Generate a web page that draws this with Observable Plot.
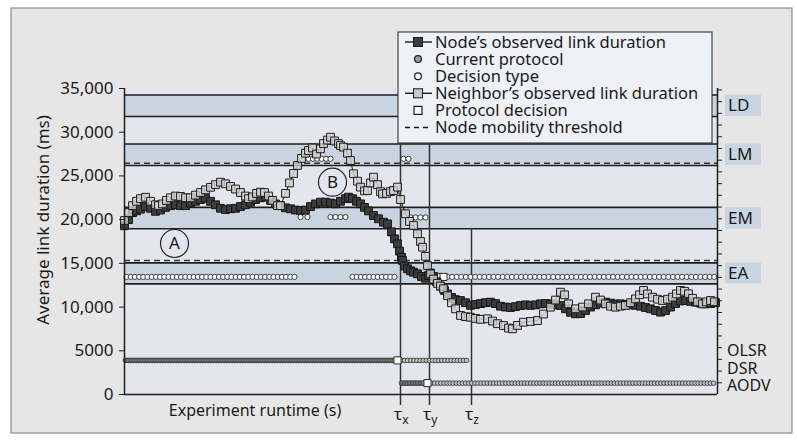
<!DOCTYPE html>
<html><head><meta charset="utf-8">
<script src="https://cdn.jsdelivr.net/npm/d3@7"></script>
<script src="https://cdn.jsdelivr.net/npm/@observablehq/plot@0.6"></script>
<style>
body{margin:0;background:#fff;}
#chart{width:797px;height:441px;}
svg{overflow:visible;}
</style></head><body><div id="chart"></div>
<script>
// ---------- data ----------
const xDomain = [0, 593];
const yTicks = [0, 5000, 10000, 15000, 20000, 25000, 30000, 35000];
const yTickLabels = ["0", "5000", "10,000", "15,000", "20,000", "25,000", "30,000", "35,000"];

const nodeTime = [0,4,8,12,16,21,26,31,36,41,46,51,56,61,66,71,76,81,86,91,96,101,106,111,116,121,126,131,136,141,146,151,156,161,166,171,176,181,186,191,196,201,206,211,216,221,224,228,232,236,240,244,249,254,259,263,267,270,273,275,277,278,280,283,286,289,293,297,301,304,306,309,312,316,320,323,327,331,336,341,346,351,356,361,366,371,376,381,386,391,396,401,406,411,416,421,426,431,436,441,446,451,456,461,466,471,476,481,486,491,496,501,506,511,516,521,526,531,536,541,546,551,556,561,566,571,576,581,586,591];
const nodeDuration = [19300,20000,20800,21000,21200,21500,21300,20950,21100,21400,21600,21700,21600,21600,21900,22100,22300,22450,22100,21700,21300,21160,21250,21300,21500,21700,22000,22300,22500,22600,22200,21800,21600,21350,21240,21100,21050,21100,21500,21800,22000,22000,21900,21810,22100,22400,22570,22400,22100,21810,21400,21000,20470,20100,19710,19520,18600,17800,17240,16400,15700,15330,14700,14380,14150,13990,13800,13500,13300,13600,13900,13500,12900,12400,11900,11500,11100,10850,10750,10500,10200,10300,10400,10500,10560,10400,10100,10000,9950,10050,10180,10250,10200,10250,10370,10400,10370,10250,10180,9800,9400,9230,9250,9600,10000,10250,10450,10560,10450,10350,10370,10300,10250,10200,10100,9950,9800,9610,9420,9600,10000,10400,10700,10750,10650,10560,10450,10370,10400,10500];

const neighborTime = [0,4,8,12,16,21,26,31,34,38,42,46,51,56,61,66,71,76,81,86,91,96,101,106,111,116,121,124,128,132,136,140,144,148,153,156,161,165,169,173,177,181,184,188,192,196,199,203,206,210,214,216,219,223,226,229,233,236,240,243,246,249,253,256,258,262,266,269,273,276,281,285,289,293,296,298,301,303,306,309,313,316,319,323,327,331,336,341,346,351,356,363,368,373,379,384,388,393,399,406,413,419,426,431,436,440,444,451,458,464,471,476,481,486,491,496,501,506,511,515,519,523,528,533,538,543,548,552,556,560,564,568,573,578,582,586,590];
const neighborDuration = [19900,20800,21600,22100,22400,22560,22100,21700,21600,21800,22200,22500,22700,22650,22500,22500,22800,23100,23410,23700,24000,24280,24100,23800,23500,23100,22700,22400,22600,23000,23140,23100,22700,22200,21600,21600,23000,24200,25280,26200,27000,27600,27900,28200,27500,28100,28700,29100,29430,29000,28700,28480,28290,27600,26760,25250,24400,23720,23300,23330,24200,24860,24000,23200,22950,23000,23200,23330,23720,22300,20670,19800,19330,18380,17500,16850,15800,14760,13800,13200,12700,12400,12090,11300,10500,9800,9040,8900,8840,8700,8600,8660,8400,8100,7890,7600,7510,7900,8270,8350,8460,9200,9990,10800,11700,11400,10370,9800,10000,10370,11130,10800,10370,10100,9990,10100,10180,10500,10940,11400,11900,11500,11130,10900,10750,10900,11130,11500,11900,11800,11520,11000,10600,10370,10600,10750,10600];

const bandNames = ["LD", "LM", "EM", "EA"];
const bandLow = [31800, 26200, 18950, 12650];
const bandHigh = [34250, 28650, 21400, 15050];
const thresholds = [26450, 15330];

const protocolNames = ["OLSR", "DSR", "AODV"];
const protocolLabelValues = [5030, 2970, 1030];

// current protocol: sampled runs [level, first t, last t, sample spacing]
const currentLevel = [3900, 3900, 1300, 1300];
const currentStart = [1, 277, 277, 307];
const currentEnd = [270, 344, 300, 590];
const currentStep = [1.6, 3.1, 1.6, 3.1];
const currentFill = ["#9c9c9c", "#c4c4c4", "#9c9c9c", "#c4c4c4"];

// decision type runs
const decisionLevel = [13450, 13450, 13450, 26960, 26960, 20300, 20300, 20250];
const decisionStart = [2, 228, 323, 184, 279, 176, 206, 286];
const decisionEnd = [171, 274, 592, 206, 284, 183, 221, 301];
const decisionStep = [4.2, 4.2, 4.6, 4.4, 5, 7, 5, 5];

// protocol decisions
const protoDecisionTime = [273, 303, 313, 319];
const protoDecisionLevel = [3900, 1300, 13450, 13450];

const tauNames = ["x", "y", "z"];
const tauTimes = [276, 305, 347];
const tauTop = [28700, 28700, 18950];

const annoLabels = ["A", "B"];
const annoTime = [50, 208];
const annoValue = [17270, 24280];

const rightTicks = d3.range(1340, 35000, 1340);

// ---------- build ----------
const FONT = "'Noto Sans', 'Open Sans', sans-serif";
const node = nodeTime.map((t, i) => ({t, v: nodeDuration[i]}));
const neighbor = neighborTime.map((t, i) => ({t, v: neighborDuration[i]}));
const bands = bandNames.map((name, i) => ({name, low: bandLow[i], high: bandHigh[i]}));
const bandEdges = bands.flatMap(b => [b.low, b.high]);
const current = currentLevel.flatMap((lv, i) =>
  d3.range(currentStart[i], currentEnd[i] + 0.01, currentStep[i]).map(t => ({t, v: lv, fill: currentFill[i]})));
const decisions = decisionLevel.flatMap((lv, i) =>
  d3.range(decisionStart[i], decisionEnd[i] + 0.01, decisionStep[i]).map(t => ({t, v: lv})));
const protoDecisions = protoDecisionTime.map((t, i) => ({t, v: protoDecisionLevel[i]}));
const taus = tauNames.map((n, i) => ({n, t: tauTimes[i], top: tauTop[i]}));
const annos = annoLabels.map((l, i) => ({l, t: annoTime[i], v: annoValue[i]}));

const plot = Plot.plot({
  width: 797, height: 441,
  marginLeft: 124, marginRight: 80, marginTop: 88, marginBottom: 47,
  x: {domain: xDomain, axis: null},
  y: {domain: [0, 35000], axis: null},
  style: {fontFamily: FONT, fontSize: "17px", background: "transparent", color: "#1a1a1a", overflow: "visible"},
  marks: [
    Plot.frame({fill: "#e3e7ed", stroke: null}),
    Plot.rect(bands, {x1: xDomain[0], x2: xDomain[1], y1: "low", y2: "high", fill: "#c8d4e0"}),
    Plot.ruleY(bandEdges, {stroke: "#1e1e1e", strokeWidth: 1.6}),
    Plot.ruleY(thresholds, {stroke: "#333", strokeWidth: 1.4, strokeDasharray: "6,4"}),
    Plot.ruleX(taus, {x: "t", y1: "top", y2: -1260, stroke: "#333", strokeWidth: 1.5}),
    Plot.dot(current, {x: "t", y: "v", r: 2.3, fill: "fill", stroke: "#2a2a2a", strokeWidth: 0.8}),
    Plot.dot(decisions, {x: "t", y: "v", r: 2.6, fill: "#fff", stroke: "#2a2a2a", strokeWidth: 0.9}),
    Plot.dot(protoDecisions, {x: "t", y: "v", symbol: "square", r: 4, fill: "#fff", stroke: "#2a2a2a", strokeWidth: 1}),
    Plot.line(node, {x: "t", y: "v", stroke: "#1a1a1a", strokeWidth: 1}),
    Plot.dot(node, {x: "t", y: "v", symbol: "square", r: 4.4, fill: "#3d3d3d", stroke: "#151515", strokeWidth: 1}),
    Plot.line(neighbor, {x: "t", y: "v", stroke: "#1a1a1a", strokeWidth: 1}),
    Plot.dot(neighbor, {x: "t", y: "v", symbol: "square", r: 4.4, fill: "#d2d2d2", stroke: "#1e1e1e", strokeWidth: 1, fillOpacity: 0.8}),
    Plot.dot(annos, {x: "t", y: "v", r: 14, fill: "none", stroke: "#222", strokeWidth: 1.2}),
    Plot.text(annos, {x: "t", y: "v", text: "l", fontSize: 17, fill: "#1a1a1a"}),
    Plot.ruleX(xDomain, {stroke: "#1e1e1e", strokeWidth: 1.5}),
    Plot.ruleY([0], {stroke: "#1e1e1e", strokeWidth: 1.5}),
    Plot.axisY({ticks: yTicks, tickFormat: d => yTickLabels[yTicks.indexOf(d)], tickSize: 5, tickPadding: 6, label: null, stroke: "#1e1e1e", fill: "#1a1a1a"}),
    Plot.axisY({anchor: "right", ticks: rightTicks, tickFormat: () => "", tickSize: 4, label: null, stroke: "#1e1e1e"})
  ]
});

const svg = d3.select(plot);
const ys = plot.scale("y"), xs = plot.scale("x");
// outer frame
svg.insert("rect", ":first-child")
  .attr("x", 11).attr("y", 8).attr("width", 781).attr("height", 425)
  .attr("fill", "#e6e6e6").attr("stroke", "#8c8c8c").attr("stroke-width", 1.2);

const ann = svg.append("g").attr("font-family", FONT).attr("fill", "#1a1a1a").attr("text-anchor", "start");
// y-axis title
ann.append("text").attr("transform", "translate(43,220) rotate(-90)")
  .attr("text-anchor", "middle").attr("dy", "0.35em").attr("font-size", 17)
  .text("Average link duration (ms)");
// x-axis title
ann.append("text").attr("x", 255).attr("y", 416).attr("text-anchor", "middle").attr("font-size", 16)
  .text("Experiment runtime (s)");
// tau labels
taus.forEach(d => {
  const t = ann.append("text").attr("x", xs.apply(d.t) - 6).attr("y", 420).attr("font-size", 17);
  t.append("tspan").text("τ");
  t.append("tspan").attr("dy", 4).attr("font-size", 12).text(d.n);
});
// band labels
bands.forEach(b => {
  const y1 = ys.apply(b.high), y2 = ys.apply(b.low);
  ann.append("rect").attr("x", 725).attr("y", y1).attr("width", 36).attr("height", y2 - y1).attr("fill", "#c8d4e0");
  ann.append("text").attr("x", 728).attr("y", (y1 + y2) / 2).attr("dy", "0.35em").attr("font-size", 17).text(b.name);
});
protocolNames.forEach((p, i) => {
  ann.append("text").attr("x", 727).attr("y", ys.apply(protocolLabelValues[i])).attr("dy", "0.35em").attr("font-size", 16).text(p);
});

// legend
const lg = svg.append("g").attr("font-family", FONT).attr("text-anchor", "start");
lg.append("rect").attr("x", 398).attr("y", 32).attr("width", 314).attr("height", 111)
  .attr("fill", "#eef1f5").attr("stroke", "#222").attr("stroke-width", 1);
const entries = [
  {label: "Node’s observed link duration", kind: "lineSq", fill: "#3d3d3d"},
  {label: "Current protocol", kind: "circle", fill: "#9c9c9c"},
  {label: "Decision type", kind: "circle", fill: "#fff"},
  {label: "Neighbor’s observed link duration", kind: "lineSq", fill: "#c9c9c9"},
  {label: "Protocol decision", kind: "sq", fill: "#fff"},
  {label: "Node mobility threshold", kind: "dash"}
];
entries.forEach((e, i) => {
  const cy = 42 + i * 17.1;
  if (e.kind === "lineSq") {
    lg.append("line").attr("x1", 405).attr("x2", 432).attr("y1", cy).attr("y2", cy).attr("stroke", "#1a1a1a").attr("stroke-width", 1.4);
    lg.append("rect").attr("x", 413.5).attr("y", cy - 4.5).attr("width", 9).attr("height", 9).attr("fill", e.fill).attr("stroke", "#1a1a1a");
  } else if (e.kind === "circle") {
    lg.append("circle").attr("cx", 418).attr("cy", cy).attr("r", 3.4).attr("fill", e.fill).attr("stroke", "#1a1a1a").attr("stroke-width", 1.2);
  } else if (e.kind === "sq") {
    lg.append("rect").attr("x", 414).attr("y", cy - 4).attr("width", 8).attr("height", 8).attr("fill", e.fill).attr("stroke", "#1a1a1a").attr("stroke-width", 1.2);
  } else {
    lg.append("line").attr("x1", 405).attr("x2", 432).attr("y1", cy).attr("y2", cy).attr("stroke", "#1a1a1a").attr("stroke-width", 1.4).attr("stroke-dasharray", "5,4");
  }
  lg.append("text").attr("x", 435).attr("y", cy).attr("dy", "0.35em").attr("font-size", 16.5).attr("fill", "#1a1a1a").text(e.label);
});

document.getElementById("chart").appendChild(plot);
</script>
</body></html>
